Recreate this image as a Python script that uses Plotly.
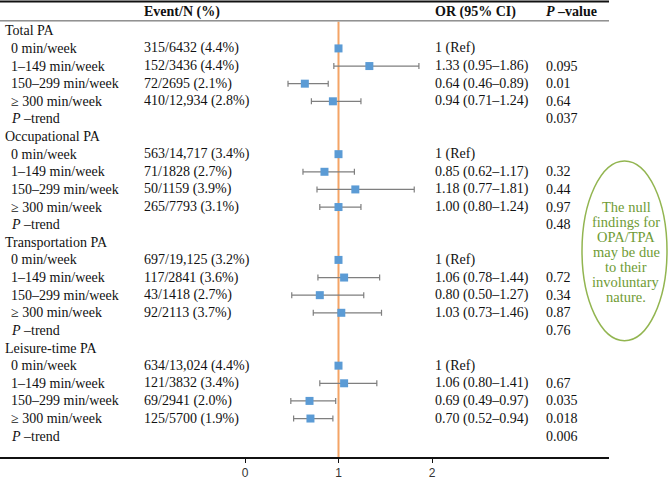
import plotly.graph_objects as go

# ---------------- data ----------------
groups = ["Total PA", "Occupational PA", "Transportation PA", "Leisure-time PA"]
levels = ["0 min/week", "1–149 min/week", "150–299 min/week", "≥ 300 min/week"]
events = [
    ["315/6432 (4.4%)", "152/3436 (4.4%)", "72/2695 (2.1%)", "410/12,934 (2.8%)"],
    ["563/14,717 (3.4%)", "71/1828 (2.7%)", "50/1159 (3.9%)", "265/7793 (3.1%)"],
    ["697/19,125 (3.2%)", "117/2841 (3.6%)", "43/1418 (2.7%)", "92/2113 (3.7%)"],
    ["634/13,024 (4.4%)", "121/3832 (3.4%)", "69/2941 (2.0%)", "125/5700 (1.9%)"],
]
or_vals = [
    [1.00, 1.33, 0.64, 0.94],
    [1.00, 0.85, 1.18, 1.00],
    [1.00, 1.06, 0.80, 1.03],
    [1.00, 1.06, 0.69, 0.70],
]
ci_lo = [
    [1.00, 0.95, 0.46, 0.71],
    [1.00, 0.62, 0.77, 0.80],
    [1.00, 0.78, 0.50, 0.73],
    [1.00, 0.80, 0.49, 0.52],
]
ci_hi = [
    [1.00, 1.86, 0.89, 1.24],
    [1.00, 1.17, 1.81, 1.24],
    [1.00, 1.44, 1.27, 1.46],
    [1.00, 1.41, 0.97, 0.94],
]
or_text = [
    ["1 (Ref)", "1.33 (0.95–1.86)", "0.64 (0.46–0.89)", "0.94 (0.71–1.24)"],
    ["1 (Ref)", "0.85 (0.62–1.17)", "1.18 (0.77–1.81)", "1.00 (0.80–1.24)"],
    ["1 (Ref)", "1.06 (0.78–1.44)", "0.80 (0.50–1.27)", "1.03 (0.73–1.46)"],
    ["1 (Ref)", "1.06 (0.80–1.41)", "0.69 (0.49–0.97)", "0.70 (0.52–0.94)"],
]
p_vals = [
    ["", "0.095", "0.01", "0.64"],
    ["", "0.32", "0.44", "0.97"],
    ["", "0.72", "0.34", "0.87"],
    ["", "0.67", "0.035", "0.018"],
]
p_trend = ["0.037", "0.48", "0.76", "0.006"]
x_ticks = [0, 1, 2]
note_lines = ["The null", "findings for", "OPA/TPA", "may be due", "to their", "involuntary", "nature."]

# ---------------- layout constants ----------------
W, H = 669, 480
PLOT_H = 460
FONT = "Liberation Serif"
FS = 14
BLUE = "#5B9BD5"
ORANGE = "#F4A466"
GRAY = "#7F7F7F"
GREEN_LINE = "#92B550"
GREEN_TEXT = "#6F9B35"

def px(xp):
    return xp / W

def py(yp):
    return 1 - yp / PLOT_H

annotations = []
def add_text(text, xpix, yrow):
    annotations.append(dict(
        x=px(xpix), xref="paper", y=yrow, yref="y", text=text,
        xanchor="left", yanchor="middle", showarrow=False,
        font=dict(family=FONT, size=FS, color="#111111"),
    ))

mx, my, err_p, err_m = [], [], [], []
row = 0
for g in range(len(groups)):
    add_text(groups[g], 3, row)
    row += 1
    for k in range(len(levels)):
        add_text(levels[k], 9, row)
        add_text(events[g][k], 142, row)
        add_text(or_text[g][k], 433, row)
        if p_vals[g][k]:
            add_text(p_vals[g][k], 544, row)
        mx.append(or_vals[g][k])
        my.append(row)
        err_p.append(ci_hi[g][k] - or_vals[g][k])
        err_m.append(or_vals[g][k] - ci_lo[g][k])
        row += 1
    add_text("<i>P</i> –trend", 9, row)
    add_text(p_trend[g], 544, row)
    row += 1

# headers
for txt, xp in [("<b>Event/N (%)</b>", 142), ("<b>OR (95% CI)</b>", 433), ("<b><i>P</i> –value</b>", 544)]:
    annotations.append(dict(
        x=px(xp), xref="paper", y=py(12), yref="paper", text=txt,
        xanchor="left", yanchor="middle", showarrow=False,
        font=dict(family=FONT, size=FS, color="#111111"),
    ))
# note in ellipse, one line per annotation for tight spacing
note_top, note_step = 208, 15.2
for i, line in enumerate(note_lines):
    annotations.append(dict(
        x=px(626), xref="paper", y=py(note_top + i * note_step), yref="paper", text=line,
        xanchor="center", yanchor="middle", showarrow=False,
        font=dict(family=FONT, size=14.5, color=GREEN_TEXT),
    ))

fig = go.Figure()
fig.add_trace(go.Scatter(
    x=mx, y=my, mode="markers",
    marker=dict(symbol="square", size=8, color=BLUE),
    error_x=dict(type="data", symmetric=False, array=err_p, arrayminus=err_m,
                 color=GRAY, thickness=1.2, width=3),
    showlegend=False, hoverinfo="skip",
))

# axis mapping: value 0 at px 245, value 1 at px 338.5
x0_px, unit = 245.0, 93.5
dom_right = 609
row0_px, row_step = 31.0, 17.74

shapes = [
    dict(type="line", xref="paper", yref="paper", x0=0, x1=px(dom_right), y0=py(1.5), y1=py(1.5),
         line=dict(color="#111111", width=2)),
    dict(type="line", xref="paper", yref="paper", x0=0, x1=px(dom_right), y0=py(21), y1=py(21),
         line=dict(color="#555555", width=1)),
    dict(type="line", xref="x", yref="paper", x0=1, x1=1, y0=0, y1=py(22),
         line=dict(color=ORANGE, width=2), layer="below"),
    dict(type="circle", xref="paper", yref="paper", x0=px(582), x1=px(667), y0=py(343), y1=py(162),
         line=dict(color=GREEN_LINE, width=1.5)),
]

fig.update_layout(
    width=W, height=H,
    margin=dict(l=0, r=0, t=0, b=H - PLOT_H),
    paper_bgcolor="white", plot_bgcolor="white",
    xaxis=dict(
        domain=[0, dom_right / W],
        range=[(0 - x0_px) / unit, (dom_right - x0_px) / unit],
        tickvals=x_ticks, ticktext=[str(t) for t in x_ticks],
        showline=True, linecolor="#111111", linewidth=1.5,
        ticks="outside", ticklen=4, tickcolor="#111111",
        showgrid=False, zeroline=False,
        tickfont=dict(family="Liberation Sans", size=12, color="#333333"),
    ),
    yaxis=dict(
        range=[(PLOT_H - row0_px) / row_step, (0 - row0_px) / row_step],
        showgrid=False, zeroline=False, showticklabels=False, showline=False,
    ),
    shapes=shapes,
    annotations=annotations,
)

fig.write_html("out.html")
